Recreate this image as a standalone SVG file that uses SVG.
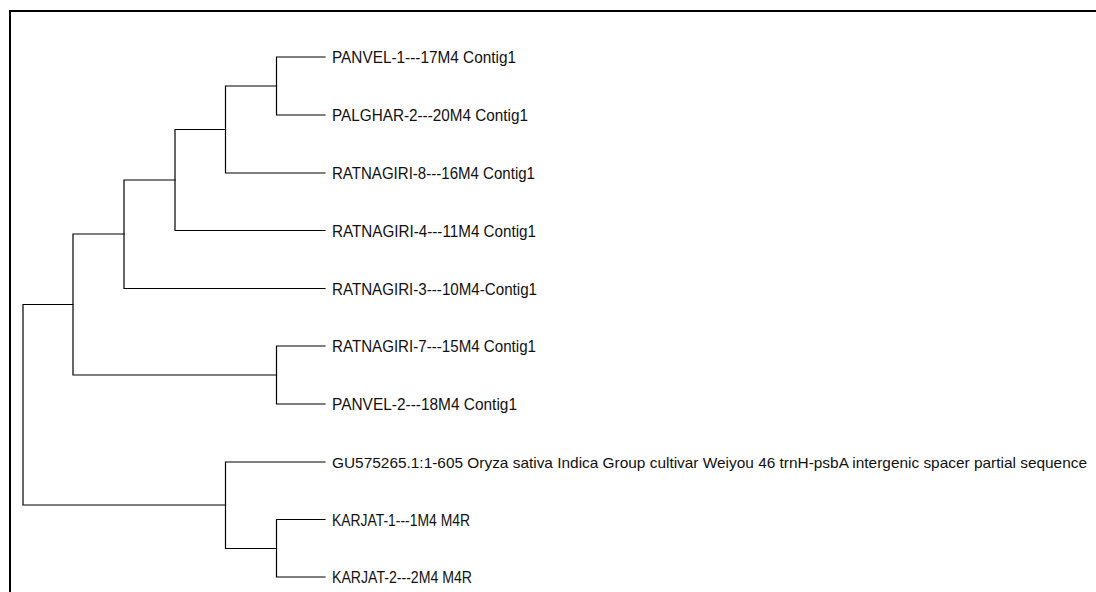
<svg xmlns="http://www.w3.org/2000/svg" width="1096" height="592" viewBox="0 0 1096 592">
<style>
.br{fill:none;stroke:#000;stroke-width:1.2;stroke-linecap:square}
.lb{font-family:"Liberation Sans",Arial,sans-serif;font-size:16px;fill:#111}
.lb-long{font-size:15px}
</style>
<rect x="0" y="0" width="1096" height="592" fill="#fff"/>
<path d="M10,600 V11 H1100" fill="none" stroke="#000" stroke-width="2"/>
<g id="connectors" class="br">
<path d="M276.5,57 H325 M276.5,115 H325 M276.5,57 V115"/>
<path d="M225.5,86 H276.5 M225.5,173 H325 M225.5,86 V173"/>
<path d="M175,129.5 H225.5 M175,230.5 H325 M175,129.5 V230.5"/>
<path d="M124,180 H175 M124,288.5 H325 M124,180 V288.5"/>
<path d="M276.5,346 H325 M276.5,404 H325 M276.5,346 V404"/>
<path d="M73,234 H124 M73,375 H276.5 M73,234 V375"/>
<path d="M276.5,519.5 H325 M276.5,577 H325 M276.5,519.5 V577"/>
<path d="M225.5,462 H325 M225.5,548.5 H276.5 M225.5,462 V548.5"/>
<path d="M23,304.5 H73 M23,505 H225.5 M23,304.5 V505"/>
</g>
<g id="leaf-panvel1"><text class="lb" x="332" y="63" textLength="184" lengthAdjust="spacingAndGlyphs">PANVEL-1---17M4 Contig1</text></g>
<g id="leaf-palghar2"><text class="lb" x="332" y="121" textLength="196" lengthAdjust="spacingAndGlyphs">PALGHAR-2---20M4 Contig1</text></g>
<g id="leaf-ratnagiri8"><text class="lb" x="332" y="179" textLength="203" lengthAdjust="spacingAndGlyphs">RATNAGIRI-8---16M4 Contig1</text></g>
<g id="leaf-ratnagiri4"><text class="lb" x="332" y="236.5" textLength="204" lengthAdjust="spacingAndGlyphs">RATNAGIRI-4---11M4 Contig1</text></g>
<g id="leaf-ratnagiri3"><text class="lb" x="332" y="294.5" textLength="205" lengthAdjust="spacingAndGlyphs">RATNAGIRI-3---10M4-Contig1</text></g>
<g id="leaf-ratnagiri7"><text class="lb" x="332" y="352" textLength="204" lengthAdjust="spacingAndGlyphs">RATNAGIRI-7---15M4 Contig1</text></g>
<g id="leaf-panvel2"><text class="lb" x="332" y="410" textLength="185" lengthAdjust="spacingAndGlyphs">PANVEL-2---18M4 Contig1</text></g>
<g id="leaf-gu575265"><text class="lb lb-long" x="332" y="468" textLength="755" lengthAdjust="spacingAndGlyphs">GU575265.1:1-605 Oryza sativa Indica Group cultivar Weiyou 46 trnH-psbA intergenic spacer partial sequence</text></g>
<g id="leaf-karjat1"><text class="lb" x="332" y="525.5" textLength="138" lengthAdjust="spacingAndGlyphs">KARJAT-1---1M4 M4R</text></g>
<g id="leaf-karjat2"><text class="lb" x="332" y="583" textLength="140" lengthAdjust="spacingAndGlyphs">KARJAT-2---2M4 M4R</text></g>
</svg>
